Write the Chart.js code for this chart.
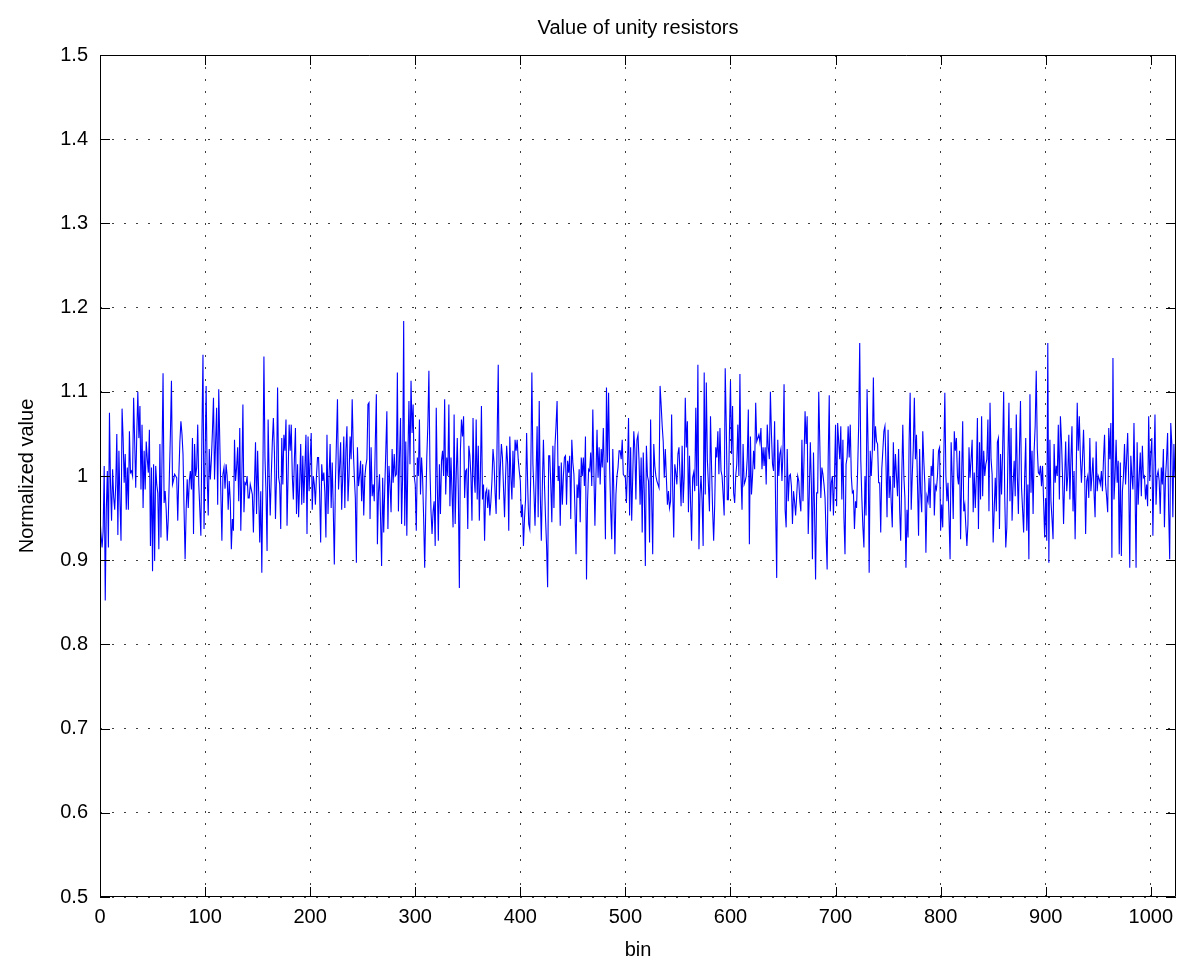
<!DOCTYPE html>
<html lang="en">
<head>
  <meta charset="UTF-8" />
  <title>Value of unity resistors</title>
  <script src="https://cdn.jsdelivr.net/npm/chart.js"></script>
  <style>
    body { margin: 0; background: #fff; }
    #wrap { width: 1186px; height: 971px; }
  </style>
</head>
<body>
  <div id="wrap"><canvas id="chart" width="1186" height="971"></canvas></div>

  <script>
    const chartTitle = "Value of unity resistors";
    const xLabel = "bin";
    const yLabel = "Normalized value";
    const xTicks = [0, 100, 200, 300, 400, 500, 600, 700, 800, 900, 1000];
    const yTicks = [0.5, 0.6, 0.7, 0.8, 0.9, 1.0, 1.1, 1.2, 1.3, 1.4, 1.5];

    // normalized value per bin (0..1023)
    const resistorValues = [
      0.95, 0.93, 0.915, 0.935, 1.012, 0.852, 0.96, 1.006, 0.915, 1.075,
      0.99, 0.947, 1.008, 0.975, 0.96, 0.99, 1.05, 0.93, 1.03, 0.97,
      0.923, 1.08, 1.045, 0.992, 1.026, 0.96, 1.01, 0.96, 1.053, 1.004,
      1.006, 1.0, 1.093, 1.041, 0.986, 1.05, 1.1, 1.045, 1.083, 0.984,
      1.061, 0.962, 1.03, 0.984, 1.041, 1.02, 1.004, 1.055, 0.917, 1.01,
      0.887, 1.014, 0.899, 1.012, 0.99, 0.98, 0.913, 1.038, 0.927, 1.02,
      1.122, 0.968, 0.982, 0.96, 0.923, 0.95, 1.0, 1.05, 1.113, 0.99,
      0.995, 1.002, 1.0, 0.998, 0.947, 1.0, 1.04, 1.065, 1.05, 1.026,
      0.96, 0.901, 0.96, 0.996, 0.962, 0.994, 1.006, 0.984, 1.045, 0.931,
      1.038, 1.0, 1.01, 1.061, 0.99, 0.96, 0.929, 1.05, 1.144, 0.937,
      1.02, 1.107, 1.0, 0.953, 1.032, 0.996, 1.02, 1.053, 1.093, 0.996,
      1.04, 1.081, 0.966, 1.103, 1.041, 0.98, 0.923, 1.002, 1.01, 0.985,
      1.014, 1.0, 0.96, 0.994, 0.97, 0.913, 0.949, 0.935, 1.043, 0.994,
      1.01, 1.034, 0.97, 1.057, 0.935, 1.0, 1.085, 0.957, 0.992, 0.99,
      1.0, 0.974, 0.974, 0.99, 0.984, 0.978, 0.933, 0.99, 1.04, 0.955,
      1.03, 0.98, 0.921, 0.982, 0.885, 1.0, 1.142, 1.022, 0.98, 0.911,
      1.067, 1.0, 0.953, 1.0, 1.04, 1.069, 1.028, 0.949, 1.0, 1.105,
      0.998, 0.99, 0.937, 1.045, 0.99, 1.049, 1.03, 1.067, 0.941, 1.0,
      1.061, 1.03, 1.061, 1.0, 0.972, 1.02, 1.057, 0.955, 1.014, 0.951,
      0.99, 1.038, 0.966, 1.024, 0.968, 1.01, 1.049, 0.931, 1.047, 0.982,
      1.02, 1.051, 0.96, 1.0, 0.99, 0.966, 1.0, 1.022, 1.022, 0.98,
      0.921, 1.014, 0.994, 1.004, 0.98, 0.927, 1.049, 0.955, 1.0, 1.038,
      0.962, 1.016, 0.96, 0.895, 0.99, 1.04, 1.091, 0.984, 1.01, 1.04,
      0.96, 1.0, 1.047, 0.962, 1.03, 1.059, 0.97, 1.0, 1.047, 1.02,
      1.091, 1.034, 1.0, 0.974, 0.897, 1.034, 0.988, 1.0, 1.018, 0.97,
      1.014, 0.953, 0.998, 1.012, 1.02, 1.085, 1.087, 0.949, 1.034, 0.976,
      0.99, 0.97, 1.04, 1.097, 0.919, 0.98, 1.002, 0.95, 0.893, 0.998,
      0.933, 0.986, 1.03, 1.077, 0.937, 1.012, 0.99, 0.957, 1.032, 0.992,
      1.026, 1.0, 1.002, 1.123, 0.958, 1.02, 1.069, 0.943, 1.0, 1.184,
      0.941, 1.041, 0.929, 1.02, 1.089, 1.014, 1.113, 1.051, 1.085, 1.0,
      0.99, 0.935, 1.022, 1.0, 1.067, 0.978, 1.022, 0.998, 0.95, 0.891,
      0.96, 1.022, 1.06, 1.125, 1.01, 0.958, 0.931, 0.958, 0.97, 0.917,
      1.081, 0.99, 0.923, 1.014, 0.955, 1.018, 1.03, 1.0, 1.091, 0.978,
      1.022, 1.0, 1.085, 0.964, 1.022, 0.98, 0.939, 1.073, 0.943, 1.0,
      1.045, 0.982, 0.867, 1.03, 1.067, 1.047, 1.071, 0.974, 1.006, 1.008,
      0.937, 1.036, 1.024, 1.0, 0.947, 1.069, 1.0, 0.98, 1.067, 0.972,
      1.036, 0.947, 1.0, 1.083, 0.972, 0.99, 0.923, 0.98, 0.984, 0.962,
      0.984, 0.953, 0.97, 0.994, 1.032, 1.016, 0.98, 0.955, 1.05, 1.132,
      0.972, 1.01, 1.038, 1.022, 0.986, 0.951, 1.0, 1.036, 1.014, 0.935,
      1.047, 1.0, 0.972, 1.03, 0.986, 1.043, 1.03, 1.043, 1.02, 1.006,
      0.994, 0.951, 0.966, 0.917, 0.95, 0.972, 1.051, 0.99, 0.943, 0.937,
      1.008, 1.123, 1.014, 0.98, 0.941, 1.0, 1.059, 0.951, 1.089, 0.978,
      0.923, 0.99, 1.043, 0.99, 0.95, 0.917, 0.868, 1.024, 1.024, 0.99,
      0.945, 1.036, 0.962, 1.036, 1.06, 1.089, 0.994, 1.012, 0.941, 1.016,
      0.966, 1.0, 1.022, 1.024, 0.966, 1.018, 1.004, 1.024, 0.949, 1.043,
      1.016, 1.002, 0.96, 0.907, 0.99, 0.974, 1.008, 0.945, 1.022, 1.0,
      1.022, 0.988, 1.047, 0.877, 0.97, 1.008, 1.006, 1.028, 0.988, 1.079,
      1.006, 0.941, 1.0, 1.055, 0.998, 1.034, 0.99, 1.032, 1.01, 1.057,
      1.0, 0.925, 1.105, 1.016, 1.099, 1.01, 0.96, 0.925, 1.032, 0.98,
      0.907, 0.978, 1.0, 1.01, 1.03, 1.03, 1.02, 1.043, 1.002, 1.0,
      0.998, 0.968, 1.01, 1.069, 0.953, 1.034, 0.947, 1.0, 1.053, 1.032,
      0.972, 1.043, 1.049, 1.018, 0.966, 1.022, 0.933, 1.028, 0.98, 0.893,
      1.036, 1.0, 0.994, 0.921, 1.067, 0.974, 0.907, 1.038, 1.012, 1.0,
      0.994, 0.99, 0.986, 1.107, 1.085, 1.06, 1.041, 0.998, 1.032, 0.998,
      0.966, 0.982, 0.962, 0.97, 1.073, 0.986, 0.927, 1.014, 1.004, 0.99,
      1.026, 1.034, 1.0, 0.964, 1.036, 0.968, 1.0, 1.093, 1.034, 1.065,
      0.957, 1.024, 0.97, 0.923, 0.998, 1.004, 0.982, 1.081, 0.988, 1.132,
      0.913, 0.978, 1.0, 0.97, 0.917, 1.123, 0.978, 1.111, 1.02, 0.99,
      0.958, 1.071, 1.01, 0.96, 0.923, 0.966, 1.034, 1.022, 1.053, 1.002,
      1.057, 1.006, 1.0, 0.978, 0.953, 1.128, 1.059, 0.972, 0.972, 1.05,
      1.113, 1.026, 1.083, 0.98, 0.968, 1.0, 1.014, 1.061, 1.0, 1.121,
      1.0, 0.96, 1.038, 0.99, 0.994, 1.0, 1.022, 1.079, 0.919, 1.047,
      0.978, 1.0, 1.03, 1.008, 1.087, 1.041, 1.045, 1.049, 1.04, 1.057,
      1.008, 1.034, 1.012, 1.034, 0.99, 1.061, 1.034, 1.02, 1.1, 1.05,
      1.014, 1.006, 1.065, 0.96, 0.879, 1.043, 1.0, 1.026, 1.032, 0.994,
      1.03, 1.109, 0.96, 0.939, 1.032, 0.97, 1.0, 1.002, 0.988, 0.943,
      0.982, 0.97, 0.953, 0.976, 1.0, 0.994, 0.97, 0.958, 1.043, 0.97,
      1.02, 1.077, 1.038, 1.071, 0.931, 0.978, 1.04, 0.99, 0.901, 1.028,
      0.96, 0.877, 0.98, 0.98, 1.1, 1.04, 0.974, 1.01, 1.002, 0.99,
      0.974, 0.93, 0.889, 1.02, 1.096, 0.958, 0.992, 1.0, 0.953, 1.0,
      1.061, 0.964, 1.063, 1.04, 1.02, 1.059, 0.972, 1.043, 0.95, 0.907,
      1.014, 1.022, 1.059, 1.022, 1.061, 1.0, 0.98, 0.982, 0.937, 0.97,
      0.962, 1.006, 1.06, 1.158, 1.02, 0.974, 0.94, 0.915, 1.0, 0.953,
      1.103, 1.034, 0.885, 1.03, 1.0, 1.03, 1.117, 1.03, 1.059, 1.041,
      1.038, 0.992, 0.992, 0.933, 1.008, 1.03, 1.053, 1.059, 1.014, 0.951,
      1.055, 0.974, 1.0, 0.968, 0.939, 1.04, 0.986, 1.026, 1.0, 0.976,
      1.032, 0.96, 0.923, 0.998, 1.061, 1.0, 0.974, 0.891, 0.96, 0.927,
      1.04, 1.099, 0.96, 1.0, 1.034, 1.093, 1.02, 1.049, 0.99, 0.929,
      1.032, 0.98, 0.957, 1.053, 1.018, 0.99, 0.909, 0.976, 0.97, 0.998,
      0.962, 1.012, 1.0, 1.032, 0.953, 0.988, 0.984, 1.0, 1.03, 1.034,
      0.935, 0.966, 0.939, 1.02, 1.099, 1.0, 0.97, 0.992, 0.95, 0.901,
      1.04, 1.0, 0.949, 1.053, 1.03, 1.045, 1.0, 0.99, 1.03, 0.925,
      1.0, 1.065, 0.958, 0.966, 0.94, 0.917, 0.943, 1.034, 0.998, 1.02,
      1.043, 0.957, 1.004, 0.962, 1.0, 1.069, 0.937, 1.04, 0.972, 1.071,
      0.976, 1.03, 1.0, 1.014, 1.02, 1.067, 0.958, 1.087, 1.02, 1.002,
      0.921, 0.96, 0.998, 0.958, 1.04, 1.045, 0.937, 1.026, 0.978, 1.03,
      1.1, 0.976, 0.915, 0.939, 1.02, 1.087, 0.97, 1.057, 0.947, 0.99,
      1.018, 0.976, 1.073, 1.0, 0.955, 1.03, 1.089, 0.986, 0.96, 0.933,
      1.0, 1.045, 0.935, 0.99, 0.901, 1.097, 0.98, 1.03, 0.955, 1.03,
      1.06, 1.125, 1.032, 1.004, 1.002, 1.012, 0.988, 1.012, 0.97, 0.927,
      0.974, 0.923, 1.158, 0.897, 1.043, 0.97, 0.949, 0.925, 1.038, 0.992,
      1.012, 1.0, 1.061, 0.972, 1.071, 1.043, 1.0, 0.943, 0.994, 1.041,
      0.982, 1.0, 1.049, 0.972, 1.02, 1.059, 0.958, 1.006, 0.925, 1.0,
      1.087, 1.03, 1.071, 1.022, 0.992, 1.02, 1.055, 1.008, 0.931, 0.994,
      1.0, 0.974, 1.045, 0.982, 1.0, 1.022, 0.98, 0.951, 1.041, 0.982,
      1.0, 0.996, 0.99, 1.006, 0.982, 1.02, 1.049, 0.99, 0.975, 0.957,
      1.057, 1.02, 1.063, 0.903, 1.14, 0.972, 1.0, 1.043, 0.992, 1.018,
      0.907, 1.016, 0.905, 0.982, 1.0, 1.038, 0.99, 1.02, 1.051, 0.994,
      0.891, 1.024, 1.0, 0.984, 1.063, 0.986, 0.891, 1.04, 0.966, 1.0,
      1.028, 0.976, 1.036, 0.998, 1.0, 0.972, 0.99, 0.964, 1.071, 0.994,
      1.026, 1.045, 0.929, 1.01, 1.073, 0.966, 1.0, 1.006, 0.994, 0.955,
      1.01, 0.99, 1.032, 0.939, 0.998, 1.02, 1.051, 0.96, 0.901, 1.063,
      1.038, 0.951, 1.038, 0.998
    ];

    const points = resistorValues.map((v, i) => ({ x: i, y: v }));

    // MATLAB style box with inward tick marks, title centred over the axes
    const boxPlugin = {
      id: "box",
      afterDraw(chart) {
        const { ctx, chartArea: a, scales } = chart;
        const len = 10;
        ctx.save();
        ctx.strokeStyle = "#000";
        ctx.lineWidth = 1;
        ctx.beginPath();
        ctx.rect(Math.round(a.left) + 0.5, Math.round(a.top) + 0.5,
                 Math.round(a.right - a.left) - 1, Math.round(a.bottom - a.top) - 1);
        xTicks.forEach(v => {
          const px = Math.round(scales.x.getPixelForValue(v)) + 0.5;
          ctx.moveTo(px, a.bottom); ctx.lineTo(px, a.bottom - len);
          ctx.moveTo(px, a.top); ctx.lineTo(px, a.top + len);
        });
        yTicks.forEach(v => {
          const py = Math.round(scales.y.getPixelForValue(v)) + 0.5;
          ctx.moveTo(a.left, py); ctx.lineTo(a.left + len, py);
          ctx.moveTo(a.right, py); ctx.lineTo(a.right - len, py);
        });
        ctx.stroke();

        ctx.fillStyle = "#000";
        ctx.font = "20px 'Liberation Sans', Arial, Helvetica, sans-serif";
        ctx.textAlign = "center";
        ctx.textBaseline = "middle";
        ctx.fillText(chartTitle, (a.left + a.right) / 2, 28);
        ctx.restore();
      }
    };

    Chart.defaults.font.family = "'Liberation Sans', Arial, Helvetica, sans-serif";
    Chart.defaults.color = "#000";

    const ctx = document.getElementById("chart").getContext("2d");
    new Chart(ctx, {
      type: "line",
      data: {
        datasets: [{
          data: points,
          borderColor: "#0000ff",
          borderWidth: 1.1,
          pointRadius: 0,
          tension: 0,
          fill: false
        }]
      },
      options: {
        responsive: false,
        animation: false,
        devicePixelRatio: 1,
        layout: { padding: { left: 0, right: 10, top: 55, bottom: 0 } },
        plugins: {
          legend: { display: false },
          tooltip: { enabled: false },
          title: { display: false }
        },
        scales: {
          x: {
            type: "linear",
            min: 0,
            max: 1024,
            afterBuildTicks: s => { s.ticks = xTicks.map(v => ({ value: v })); },
            afterFit: s => { s.height = 74; },
            ticks: {
              font: { size: 20 },
              padding: 8,
              maxRotation: 0,
              autoSkip: false,
              callback: v => String(v)
            },
            grid: { color: "rgba(0,0,0,0.75)", lineWidth: 1, drawTicks: false },
            border: { display: false, dash: [2, 10] },
            title: { display: true, text: xLabel, font: { size: 20 }, padding: { top: 0, bottom: 9 } }
          },
          y: {
            type: "linear",
            min: 0.5,
            max: 1.5,
            afterBuildTicks: s => { s.ticks = yTicks.map(v => ({ value: v })); },
            afterFit: s => { s.width = 100; },
            ticks: {
              font: { size: 20 },
              padding: 12,
              callback: v => String(Math.round(v * 10) / 10)
            },
            grid: { color: "rgba(0,0,0,0.75)", lineWidth: 1, drawTicks: false },
            border: { display: false, dash: [2, 10] },
            title: { display: true, text: yLabel, font: { size: 20 }, padding: { top: 15, bottom: 0 } }
          }
        }
      },
      plugins: [boxPlugin]
    });
  </script>
</body>
</html>
